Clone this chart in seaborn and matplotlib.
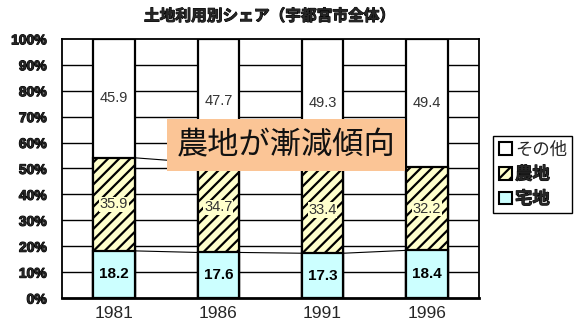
import numpy as np
import pandas as pd
import matplotlib
matplotlib.use("Agg")
import matplotlib.pyplot as plt
import matplotlib.patheffects as pe
from matplotlib.patches import Patch
import seaborn as sns

years = ["1981", "1986", "1991", "1996"]
residential = [18.2, 17.6, 17.3, 18.4]   # 宅地
farmland = [35.9, 34.7, 33.4, 32.2]      # 農地
other = [45.9, 47.7, 49.3, 49.4]         # その他
yticks = [0, 10, 20, 30, 40, 50, 60, 70, 80, 90, 100]

sns.set_theme(style="white")
plt.rcParams["font.family"] = ["Liberation Sans", "Noto Sans CJK JP", "DejaVu Sans"]
plt.rcParams["hatch.linewidth"] = 1.6
plt.rcParams["hatch.color"] = "black"

JP = ["Noto Sans CJK JP", "DejaVu Sans"]
heavy = [pe.withStroke(linewidth=0.7, foreground="black")]

df = pd.DataFrame({"year": years, "res": residential, "farm": farmland, "other": other})
df["top_res"] = df["res"]
df["top_farm"] = df["res"] + df["farm"]
df["top_other"] = df["top_farm"] + df["other"]

fig = plt.figure(figsize=(5.77, 3.29), dpi=100)
ax = fig.add_axes([0.1075, 0.094, 0.7225, 0.788])

W = 0.4
ax.set_axisbelow(True)
for y in yticks[1:-1]:
    ax.axhline(y, color="black", lw=1.0, zorder=0)

# stacked layers drawn back to front as cumulative totals
sns.barplot(data=df, x="year", y="top_other", color="white", width=W,
            edgecolor="black", linewidth=1.6, saturation=1, ax=ax, zorder=2)
sns.barplot(data=df, x="year", y="top_farm", color="#FFFFCC", width=W,
            edgecolor="black", linewidth=1.6, saturation=1, hatch="///", ax=ax, zorder=3)
sns.barplot(data=df, x="year", y="top_res", color="#CCFFFF", width=W,
            edgecolor="black", linewidth=1.6, saturation=1, ax=ax, zorder=4)

# series lines joining the segment tops of neighbouring bars
for col in ["top_res", "top_farm"]:
    vals = df[col].to_numpy()
    for i in range(len(vals) - 1):
        ax.plot([i + W / 2, i + 1 - W / 2], [vals[i], vals[i + 1]],
                color="black", lw=0.8, zorder=1)

for i in range(len(years)):
    ax.text(i, residential[i] / 2, f"{residential[i]:.1f}", ha="center", va="center",
            fontsize=11, fontweight="bold", color="black", zorder=6)
    ax.text(i, residential[i] + farmland[i] / 2, f"{farmland[i]:.1f}", ha="center", va="center",
            fontsize=10.5, color="#333333", zorder=6,
            bbox=dict(boxstyle="square,pad=0.05", fc="#FFFFCC", ec="none"))
    ax.text(i, df["top_farm"][i] + other[i] / 2, f"{other[i]:.1f}", ha="center", va="center",
            fontsize=10.5, color="#333333", zorder=6)

ax.text(0.537, 0.59, "農地が漸減傾向", transform=ax.transAxes, ha="center", va="center",
        fontsize=22.5, color="#111111", family=JP, zorder=8,
        bbox=dict(boxstyle="square,pad=0.32", fc="#FBC596", ec="none"))

ax.set_xlim(-0.5, 3.5)
ax.set_ylim(0, 100)
ax.set_yticks(yticks)
ax.set_yticklabels([f"{v}%" for v in yticks], fontsize=10, fontweight="bold",
                   family=["Liberation Sans Narrow", "Liberation Sans", "DejaVu Sans"])
for t in ax.get_yticklabels():
    t.set_path_effects([pe.withStroke(linewidth=0.8, foreground="black")])
ax.set_xticks(range(len(years)))
ax.set_xticklabels(years, fontsize=12.5)
ax.set_xticks([0.5, 1.5, 2.5], minor=True)
ax.tick_params(axis="x", which="major", length=0, pad=6)
ax.tick_params(axis="x", which="minor", length=3, direction="in", color="#555555", width=0.8)
ax.tick_params(axis="y", length=0, pad=11)
ax.set_xlabel("")
ax.set_ylabel("")
for s in ax.spines.values():
    s.set_visible(True)
    s.set_color("black")
    s.set_linewidth(1.3)
ax.spines["bottom"].set_linewidth(2.0)

fig.text(0.468, 0.952, "土地利用別シェア（宇都宮市全体）", ha="center", va="center",
         fontsize=11.3, fontweight="bold", family=JP, path_effects=heavy)

handles = [
    Patch(facecolor="white", edgecolor="black", linewidth=1.5),
    Patch(facecolor="#FFFFCC", edgecolor="black", linewidth=1.5, hatch="///"),
    Patch(facecolor="#CCFFFF", edgecolor="black", linewidth=1.5),
]
leg = fig.legend(handles, ["その他", "農地", "宅地"], loc="upper left",
                 bbox_to_anchor=(0.855, 0.588), frameon=True, fancybox=False,
                 edgecolor="black", framealpha=1, handlelength=0.75, handleheight=0.75,
                 handletextpad=0.2, borderpad=0.3, labelspacing=0.38, borderaxespad=0,
                 prop={"family": JP, "size": 12.5})
leg.get_frame().set_linewidth(1.0)
for t in leg.get_texts()[1:]:
    t.set_fontweight("bold")
    t.set_path_effects(heavy)

fig.savefig("out.png", dpi=100)
